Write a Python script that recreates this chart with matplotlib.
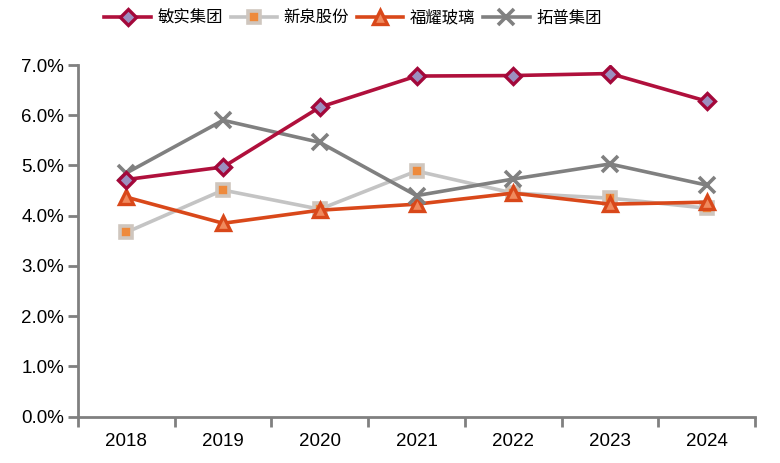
import matplotlib
matplotlib.use("Agg")
import matplotlib.pyplot as plt
from matplotlib.ticker import FuncFormatter, FixedLocator

years = ["2018", "2019", "2020", "2021", "2022", "2023", "2024"]
minth = [4.72, 4.97, 6.16, 6.78, 6.79, 6.83, 6.28]
xinquan = [3.67, 4.51, 4.13, 4.89, 4.45, 4.35, 4.15]
fuyao = [4.37, 3.85, 4.11, 4.23, 4.45, 4.23, 4.27]
tuopu = [4.85, 5.90, 5.46, 4.40, 4.73, 5.03, 4.61]
names = ["敏实集团", "新泉股份", "福耀玻璃", "拓普集团"]

plt.rcParams['font.family'] = ['Liberation Sans', 'DejaVu Sans']

fig = plt.figure(figsize=(7.8, 4.63), dpi=100)
ax = fig.add_axes([78/780, 1-416.7/463, (755-78)/780, (416.7-65)/463])

x = list(range(len(years)))
ax.plot(x, xinquan, color='#C4C4C4', lw=2.6, marker='s', ms=9,
        mfc='#EE8A3C', mec='#CFC6BE', mew=2.6, label=names[1], zorder=3)
ax.plot(x, fuyao, color='#D9481A', lw=2.6, marker='^', ms=10,
        mfc='#F08A5E', mec='#D9481A', mew=2.4, label=names[2], zorder=4)
ax.plot(x, tuopu, color='#808080', lw=2.6, marker='x', ms=11,
        mec='#808080', mew=2.6, label=names[3], zorder=5)
ax.plot(x, minth, color='#B0103C', lw=2.6, marker='D', ms=8,
        mfc='#9C8FC0', mec='#A3083A', mew=2.4, label=names[0], zorder=6)

ax.set_xlim(-0.5, len(years) - 0.5)
ax.set_ylim(0, 7)
ax.yaxis.set_major_locator(FixedLocator([0, 1, 2, 3, 4, 5, 6, 7]))
ax.yaxis.set_major_formatter(FuncFormatter(lambda v, p: f"{v:.1f}%"))
ax.set_xticks(x)
ax.set_xticklabels(years)
ax.set_xticks([i - 0.5 for i in range(len(years) + 1)], minor=True)
ax.tick_params(axis='x', which='major', length=0, pad=12, labelsize=13.5)
ax.tick_params(axis='x', which='minor', length=7, width=2, color='#808080', direction='out')
ax.tick_params(axis='y', which='major', length=7, width=2, color='#808080', labelsize=13.5, pad=3)

for s in ['top', 'right']:
    ax.spines[s].set_visible(False)
for s in ['left', 'bottom']:
    ax.spines[s].set_color('#808080')
    ax.spines[s].set_linewidth(2)

handles, labels = ax.get_legend_handles_labels()
order = [labels.index(n) for n in names]
leg = fig.legend([handles[i] for i in order], [labels[i] for i in order],
                 loc='center', bbox_to_anchor=(353/780, 1-18/463), ncol=4,
                 frameon=False, handlelength=2.85, handletextpad=0.4, columnspacing=0.45,
                 prop={'family': ['Noto Sans CJK SC', 'DejaVu Sans'], 'size': 11.8})

fig.savefig("out.png", dpi=100)
